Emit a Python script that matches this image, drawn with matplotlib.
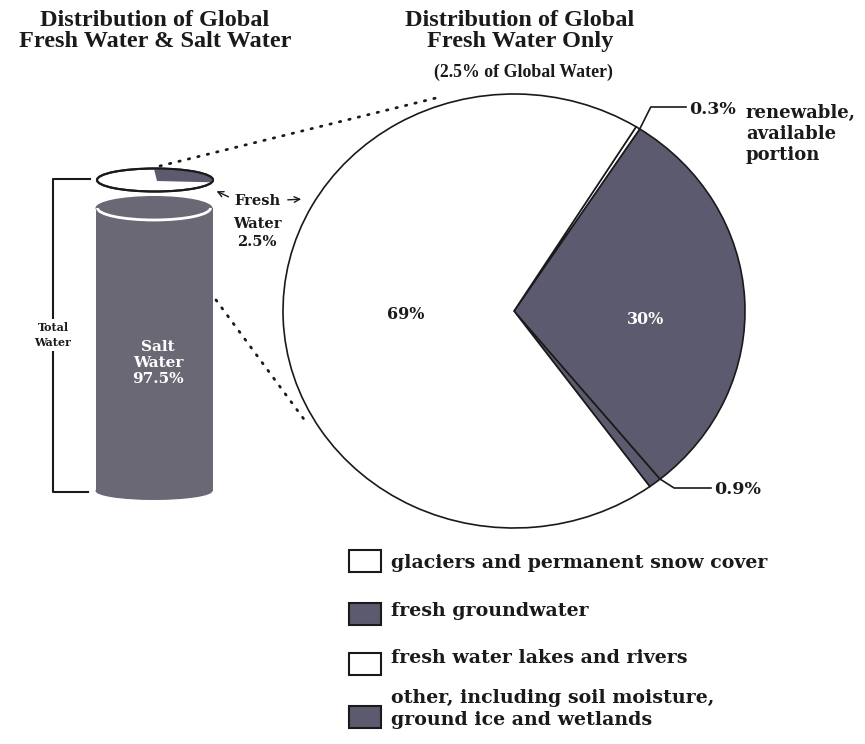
import numpy as np
import matplotlib.pyplot as plt
from matplotlib.patches import Rectangle, Ellipse, Arc, Polygon

# data
global_labels = ['Salt\nWater', 'Fresh\nWater']
global_share = [97.5, 2.5]

fresh_labels = ['other, including soil moisture,\nground ice and wetlands',
                'fresh groundwater',
                'fresh water lakes and rivers',
                'glaciers and permanent snow cover']
fresh_share = [0.9, 30, 0.3, 69]
dark = '#5c5a6e'
fresh_colors = [dark, dark, 'white', 'white']
legend_order = [3, 1, 2, 0]

W, H = 865, 744
fig = plt.figure(figsize=(W / 100, H / 100), dpi=100)
ax = fig.add_axes([0, 0, 1, 1])
ax.set_xlim(0, W)
ax.set_ylim(H, 0)
ax.axis('off')

serif = 'DejaVu Serif'
tfont = 'Liberation Serif'
ink = '#1a1a1a'

# titles
ax.text(155, 31, 'Distribution of Global\nFresh Water & Salt Water', ha='center',
        va='center', fontsize=17.5, fontweight='bold', family=tfont, color=ink,
        linespacing=1.0)
ax.text(520, 31, 'Distribution of Global\nFresh Water Only', ha='center',
        va='center', fontsize=17.5, fontweight='bold', family=tfont, color=ink,
        linespacing=1.0)
ax.text(523, 72, '(%g%% of Global Water)' % global_share[1], ha='center',
        va='center', fontsize=12.8, fontweight='bold', family=tfont, color=ink)

# pie geometry (pixels)
cx, cy, rx, ry = 514, 311, 231, 217

# cylinder of total water
cyl = '#6b6876'
ax.add_patch(Ellipse((154, 491), 117, 18, facecolor=cyl, edgecolor='none'))
ax.add_patch(Rectangle((95.5, 208), 117, 283, facecolor=cyl, edgecolor='none'))
ax.add_patch(Ellipse((154, 208), 117, 24, facecolor=cyl, edgecolor='none'))
ax.add_patch(Arc((154, 208), 113, 24, theta1=0, theta2=180, color='white', lw=2))
ax.text(158, 363, '%s\n%g%%' % (global_labels[0], global_share[0]), ha='center',
        va='center', fontsize=11, fontweight='bold', family=serif, color='white',
        linespacing=1.2)

# floating disk = fresh water
ax.add_patch(Ellipse((155, 180), 116, 23, facecolor='white', edgecolor=ink, lw=1.5))
t = np.radians(np.linspace(-12, 91, 40))
pts = [(157, 181)] + [(155 + 57 * np.cos(a), 180 - 11 * np.sin(a)) for a in t]
ax.add_patch(Polygon(pts, closed=True, facecolor=dark, edgecolor='none'))
ax.add_patch(Ellipse((155, 180), 116, 23, facecolor='none', edgecolor=ink, lw=1.5))

ax.text(257, 201, 'Fresh', ha='center', va='center', fontsize=10.5,
        fontweight='bold', family=serif, color=ink)
ax.text(257, 233, 'Water\n%g%%' % global_share[1], ha='center', va='center',
        fontsize=10.5, fontweight='bold', family=serif, color=ink, linespacing=1.3)
ax.annotate('', xy=(214, 190), xytext=(231, 198),
            arrowprops=dict(arrowstyle='->', color=ink, lw=1))
ax.annotate('', xy=(304, 199), xytext=(285, 200),
            arrowprops=dict(arrowstyle='->', color=ink, lw=1))

# bracket for total water
ax.plot([90, 53, 53, 88], [179, 179, 492, 492], color=ink, lw=1.5)
ax.text(53, 335, 'Total\nWater', ha='center', va='center', fontsize=8,
        fontweight='bold', family=serif, color=ink, linespacing=1.4,
        bbox=dict(facecolor='white', edgecolor='none', pad=2))

# dotted lines from disk / cylinder to pie
ax.plot([160, 436], [166, 98], color=ink, lw=2, ls=(0, (0.5, 3)),
        dash_capstyle='round')
ax.plot([216, 306], [300, 422], color=ink, lw=2, ls=(0, (0.5, 3)),
        dash_capstyle='round')

# pie
pax = fig.add_axes([(cx - rx) / W, (H - cy - ry) / H, 2 * rx / W, 2 * ry / H])
wedges, _ = pax.pie(fresh_share, colors=fresh_colors, startangle=-54,
                    counterclock=True,
                    wedgeprops=dict(edgecolor=ink, linewidth=1.2))
pax.set_xlim(-1, 1)
pax.set_ylim(-1, 1)
pax.set_aspect('auto')
pax.patch.set_visible(False)
pax.axis('off')

def mid(w):
    return np.radians((w.theta1 + w.theta2) / 2)

a = mid(wedges[3])
pax.text(0.47 * np.cos(a), 0.47 * np.sin(a), '%g%%' % fresh_share[3], ha='center',
         va='center', fontsize=11.5, fontweight='bold', family=serif, color=ink)
a = mid(wedges[1])
pax.text(0.57 * np.cos(a), 0.57 * np.sin(a) - 0.07, '%g%%' % fresh_share[1],
         ha='center', va='center', fontsize=11.5, fontweight='bold', family=serif,
         color='white')

def edge(deg):
    r = np.radians(deg)
    return cx + rx * np.cos(r), cy - ry * np.sin(r)

# 0.3% leader
x0, y0 = edge(wedges[2].theta1)
ax.plot([x0, x0 + 11, 686], [y0, 107, 107], color=ink, lw=1.2)
ax.text(689, 109, '%g%%' % fresh_share[2], ha='left', va='center', fontsize=12.5,
        fontweight='bold', family=serif, color=ink)
ax.text(746, 104, 'renewable,\navailable\nportion', ha='left', va='top',
        fontsize=13, fontweight='bold', family=serif, color=ink, linespacing=1.2)

# 0.9% leader
x0, y0 = edge(wedges[0].theta2)
ax.plot([x0, x0 + 14, 711], [y0, 488, 488], color=ink, lw=1.2)
ax.text(714, 490, '%g%%' % fresh_share[0], ha='left', va='center', fontsize=12.5,
        fontweight='bold', family=serif, color=ink)

# legend
box_y = [561, 614, 664, 717]
text_y = [563, 611, 658, 709]
for by, ty, i in zip(box_y, text_y, legend_order):
    ax.add_patch(Rectangle((349, by - 11), 32, 22, facecolor=fresh_colors[i],
                           edgecolor=ink, lw=1.5))
    ax.text(391, ty, fresh_labels[i], ha='left', va='center', fontsize=13.7,
            fontweight='bold', family=serif, color=ink, linespacing=1.25)

fig.savefig('out.png', dpi=100, facecolor='white')
